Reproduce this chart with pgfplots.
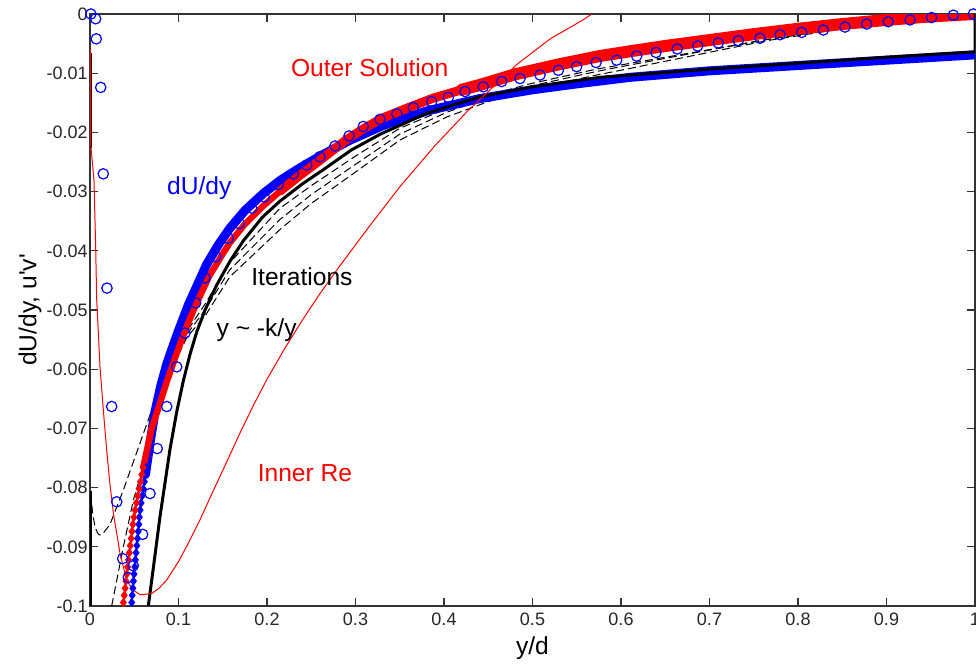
\documentclass[border=0pt]{standalone}
\usepackage{fontspec}
\setmainfont{Liberation Sans}
\usepackage{pgfplots}
\pgfplotsset{compat=1.18}

\begin{document}
\begin{tikzpicture}
\useasboundingbox (-45pt,-30pt) rectangle (443pt,303pt);
\begin{axis}[
  scale only axis, width=442.5pt, height=296pt,
  xmin=0, xmax=1, ymin=-0.1, ymax=0,
  xtick={0,0.1,0.2,0.3,0.4,0.5,0.6,0.7,0.8,0.9,1},
  xticklabels={0,0.1,0.2,0.3,0.4,0.5,0.6,0.7,0.8,0.9,1},
  ytick={-0.1,-0.09,-0.08,-0.07,-0.06,-0.05,-0.04,-0.03,-0.02,-0.01,0},
  yticklabels={-0.1,-0.09,-0.08,-0.07,-0.06,-0.05,-0.04,-0.03,-0.02,-0.01,0},
  tick align=inside, major tick length=4pt,
  axis line style={black!80, line width=0.7pt},
  tick style={black!80, line width=0.6pt},
  ticklabel style={font=\fontsize{9}{10}\selectfont, text=black!85},
  yticklabel style={inner sep=1pt},
  xlabel={y/d}, ylabel={dU/dy, u\textquotesingle v\textquotesingle},
  label style={font=\fontsize{12.3}{14}\selectfont},
  x label style={at={(axis description cs:0.5,0)}, anchor=center, yshift=-21pt},
  y label style={at={(axis description cs:-0.0678,0.5)}, anchor=center},
]

% iterations (dashed)
\addplot[black, line width=0.5pt, dash pattern=on 4pt off 2pt] coordinates {
(0.0245,-0.1)(0.0377,-0.090)(0.049,-0.0821)(0.0584,-0.0773)(0.0697,-0.0686)
(0.09,-0.0595)(0.11,-0.0535)(0.13,-0.0490)(0.158,-0.0420)(0.2147,-0.0328)
(0.25,-0.0290)(0.30,-0.0240)(0.35,-0.0193)(0.403,-0.0160)(0.45,-0.0137)
(0.497,-0.0118)(0.5725,-0.0093)(0.6,-0.0086)(0.689,-0.0063)(0.765,-0.0043)
(0.85,-0.0024)(1,0)};
\addplot[black, line width=0.5pt, dash pattern=on 4pt off 2pt] coordinates {
(0.001,-0.081)(0.003,-0.0845)(0.006,-0.0868)(0.009,-0.0878)(0.0113,-0.0880)
(0.015,-0.0877)(0.0226,-0.0862)(0.0377,-0.0804)
(0.0565,-0.0725)(0.0697,-0.0669)(0.09,-0.0600)(0.11,-0.0540)(0.13,-0.0500)
(0.158,-0.0432)(0.2147,-0.0347)(0.25,-0.0305)(0.30,-0.0254)(0.35,-0.0203)
(0.403,-0.0166)(0.45,-0.0141)(0.497,-0.0122)(0.5725,-0.0097)(0.6,-0.0089)
(0.689,-0.0064)(0.765,-0.0043)(0.85,-0.0024)(1,0)};
\addplot[black, line width=0.5pt, dash pattern=on 4pt off 2pt] coordinates {
(0.08,-0.0650)(0.09,-0.0605)(0.11,-0.0545)(0.13,-0.0510)(0.158,-0.0444)
(0.2147,-0.0364)(0.25,-0.0320)(0.30,-0.0267)(0.35,-0.0213)(0.403,-0.0174)
(0.45,-0.0148)(0.497,-0.0128)(0.5725,-0.0103)(0.6,-0.0095)(0.689,-0.0068)
(0.765,-0.0045)(0.85,-0.0025)(1,0)};
\addplot[black, line width=1.3pt] coordinates {(0.0008,-0.1)(0.0008,-0.0805)};
\addplot[black, line width=1pt] coordinates {(0.0008,-0.0066)(0.0008,-0.0226)};

% dU/dy
\addplot[blue, only marks, mark=diamond*, mark size=2pt] coordinates {
(0.0471,-0.0994)(0.0477,-0.0982)(0.0484,-0.0970)(0.0491,-0.0958)(0.0498,-0.0946)
(0.0506,-0.0934)(0.0513,-0.0922)(0.0520,-0.0910)(0.0529,-0.0898)(0.0537,-0.0886)
(0.0545,-0.0874)(0.0552,-0.0862)(0.0558,-0.0850)(0.0566,-0.0838)(0.0577,-0.0826)
(0.0589,-0.0814)(0.0602,-0.0802)(0.0614,-0.0790)(0.0626,-0.0778)(0.0636,-0.0766)};
\addplot[blue, line width=4.5pt, line cap=round] coordinates {
(0.0626,-0.0778)(0.0678,-0.0725)(0.0734,-0.0672)(0.08,-0.0628)(0.087,-0.0590)
(0.094,-0.0560)(0.1,-0.0535)(0.111,-0.0492)(0.1318,-0.0423)(0.145,-0.0390)
(0.158,-0.0362)(0.175,-0.0332)(0.196,-0.0303)(0.215,-0.0281)(0.235,-0.0262)
(0.26,-0.0240)(0.294,-0.0213)(0.33,-0.0189)(0.38,-0.0164)(0.44,-0.0143)
(0.5,-0.0128)(0.55,-0.0118)(0.61,-0.0107)(0.7,-0.0096)(0.8,-0.0087)
(0.9,-0.0078)(1,-0.0069)};

% outer solution
\addplot[red, only marks, mark=diamond*, mark size=2pt] coordinates {
(0.0377,-0.0994)(0.0387,-0.0982)(0.0397,-0.0970)(0.0406,-0.0958)(0.0416,-0.0946)
(0.0425,-0.0934)(0.0435,-0.0922)(0.0445,-0.0910)(0.0455,-0.0898)(0.0465,-0.0886)
(0.0474,-0.0874)(0.0484,-0.0862)(0.0497,-0.0850)(0.0510,-0.0838)(0.0524,-0.0826)
(0.0540,-0.0814)(0.0555,-0.0802)(0.0570,-0.0790)(0.0585,-0.0778)(0.0601,-0.0766)};
\addplot[red, line width=3.2pt, line cap=round] coordinates {
(0.0601,-0.0766)(0.0697,-0.0700)(0.0772,-0.0666)(0.087,-0.0620)(0.098,-0.0573)
(0.11,-0.0525)(0.1206,-0.0488)(0.135,-0.0442)(0.15,-0.0405)(0.1582,-0.0386)
(0.175,-0.0355)(0.1959,-0.0324)(0.215,-0.0299)};
\addplot[red, line width=4.5pt, line cap=round] coordinates {
(0.215,-0.0299)(0.235,-0.0275)(0.26,-0.0247)(0.29,-0.0212)(0.31,-0.0193)
(0.33,-0.0176)(0.36,-0.0158)(0.388,-0.0142)(0.42,-0.0128)};
\addplot[red, line width=6pt, line cap=round] coordinates {
(0.42,-0.0128)(0.44,-0.0120)(0.48,-0.0102)(0.53,-0.0085)(0.576,-0.0071)
(0.61,-0.0063)(0.65,-0.0054)(0.7,-0.0044)(0.75,-0.0034)(0.8,-0.0025)
(0.85,-0.0017)(0.9,-0.0010)(0.95,-0.0004)(1,0)};

% y ~ -k/y
\addplot[black, line width=1.5pt] coordinates {
(0.0659,-0.1)(0.0725,-0.0925)(0.0791,-0.0849)(0.0904,-0.0735)(0.098,-0.0672)
(0.1054,-0.0620)(0.113,-0.0575)(0.1206,-0.0537)(0.13,-0.0500)(0.1431,-0.0458)
(0.158,-0.0418)(0.1733,-0.0383)(0.195,-0.0343)(0.2147,-0.0316)(0.24,-0.0287)
(0.2636,-0.0263)(0.295,-0.0230)(0.328,-0.0203)(0.38,-0.0168)(0.44,-0.0140)
(0.5,-0.0123)(0.576,-0.0107)(0.7,-0.0093)(0.8,-0.0083)(0.9,-0.0073)
(1,-0.0064)(1,0)};

% inner solution
\addplot[red, line width=0.5pt] coordinates {
(0.0005,-0.006)(0.0008,-0.022)(0.0045,-0.028)(0.0065,-0.040)(0.0075,-0.048)
(0.0113,-0.0596)(0.015,-0.0668)(0.0188,-0.0736)(0.0226,-0.0795)(0.0264,-0.0843)
(0.0339,-0.0911)(0.0414,-0.0956)(0.048,-0.0972)(0.0565,-0.0981)(0.0697,-0.0979)
(0.078,-0.0970)(0.0867,-0.0956)(0.1,-0.0925)(0.11,-0.0897)(0.125,-0.0852)
(0.14,-0.0803)(0.155,-0.0755)(0.17,-0.0706)(0.185,-0.0660)(0.2,-0.0617)
(0.22,-0.0565)(0.24,-0.0517)(0.26,-0.0472)(0.2825,-0.0425)(0.315,-0.0360)
(0.35,-0.0292)(0.39,-0.0222)(0.426,-0.0165)(0.4825,-0.0085)(0.52,-0.0042)
(0.557,-0.0010)(0.57,0.0003)};

% dU/dy data
\addplot[blue, only marks, mark=o, mark size=2.6pt, mark options={line width=0.6pt}] coordinates {
(0.001,0)(0.0064,-0.0008)(0.0071,-0.0042)(0.0121,-0.0124)(0.0150,-0.0270)
(0.0192,-0.0463)(0.0245,-0.0663)(0.0302,-0.0824)(0.0369,-0.0920)(0.0433,-0.0952)
(0.0489,-0.0932)(0.0595,-0.0879)(0.0678,-0.0810)(0.0760,-0.0734)(0.0867,-0.0663)
(0.0980,-0.0596)(0.1073,-0.0539)(0.1194,-0.0488)(0.1299,-0.0446)(0.1420,-0.0410)
(0.1563,-0.0379)(0.1687,-0.0354)(0.1827,-0.0328)(0.1969,-0.0309)(0.2128,-0.0288)
(0.2297,-0.0270)(0.2449,-0.0255)(0.2599,-0.0241)(0.2768,-0.0223)(0.2927,-0.0206)
(0.3088,-0.0190)(0.3277,-0.0178)(0.3466,-0.0169)(0.3653,-0.0158)(0.3861,-0.0148)
(0.4049,-0.0141)(0.4237,-0.0131)(0.4444,-0.0123)(0.4652,-0.0114)(0.4859,-0.0109)
(0.5085,-0.0103)(0.5292,-0.0095)(0.5499,-0.0089)(0.5718,-0.0082)(0.5951,-0.0078)
(0.6177,-0.0071)(0.6395,-0.0065)(0.6636,-0.0059)(0.6867,-0.0054)(0.7099,-0.0049)
(0.7325,-0.0045)(0.7571,-0.0041)(0.7797,-0.0035)(0.8042,-0.0031)(0.8286,-0.0027)
(0.8531,-0.0022)(0.8776,-0.0017)(0.9020,-0.0013)(0.9266,-0.0010)(0.9510,-0.0006)
(0.9755,-0.0002)(0.9981,0)};

\node[text=red, font=\fontsize{12.3}{14}\selectfont] at (axis cs:0.316,-0.0091) {Outer Solution};
\node[text=blue, font=\fontsize{12.3}{14}\selectfont] at (axis cs:0.1234,-0.0294) {dU/dy};
\node[text=black, font=\fontsize{12.3}{14}\selectfont] at (axis cs:0.2395,-0.0443) {Iterations};
\node[text=black, font=\fontsize{12.3}{14}\selectfont] at (axis cs:0.1883,-0.0534) {y \textasciitilde{} -k/y};
\node[text=red, font=\fontsize{12.3}{14}\selectfont] at (axis cs:0.2429,-0.0775) {Inner Re};
\end{axis}
\end{tikzpicture}
\end{document}
